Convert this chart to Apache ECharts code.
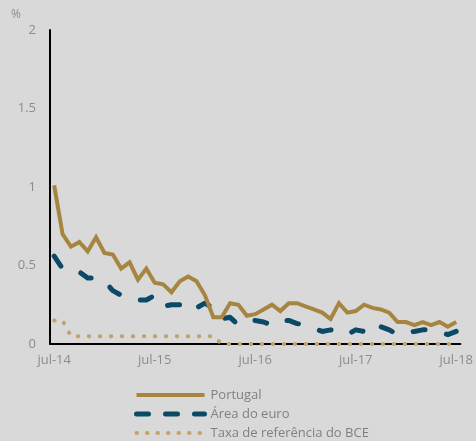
<!DOCTYPE html>
<html>
<head>
<meta charset="utf-8">
<script src="https://cdn.jsdelivr.net/npm/echarts@6/dist/echarts.min.js"></script>
<style>
  html, body { margin: 0; padding: 0; background: #d9d9d9; }
  #chart { width: 476px; height: 441px; }
</style>
</head>
<body>
<div id="chart"></div>
<script>
// meses (jul-14 a jul-18)
const months = [
  'jul-14', 'ago-14', 'set-14', 'out-14', 'nov-14', 'dez-14',
  'jan-15', 'fev-15', 'mar-15', 'abr-15', 'mai-15', 'jun-15',
  'jul-15', 'ago-15', 'set-15', 'out-15', 'nov-15', 'dez-15',
  'jan-16', 'fev-16', 'mar-16', 'abr-16', 'mai-16', 'jun-16',
  'jul-16', 'ago-16', 'set-16', 'out-16', 'nov-16', 'dez-16',
  'jan-17', 'fev-17', 'mar-17', 'abr-17', 'mai-17', 'jun-17',
  'jul-17', 'ago-17', 'set-17', 'out-17', 'nov-17', 'dez-17',
  'jan-18', 'fev-18', 'mar-18', 'abr-18', 'mai-18', 'jun-18',
  'jul-18',
]

// taxas (%)
const portugal = [
  1.01, 0.70, 0.62, 0.65, 0.59, 0.68, 0.58, 0.57, 0.48, 0.52, 0.41, 0.48,
  0.39, 0.38, 0.33, 0.40, 0.43, 0.40, 0.31, 0.17, 0.17, 0.26, 0.25, 0.18,
  0.19, 0.22, 0.25, 0.21, 0.26, 0.26, 0.24, 0.22, 0.20, 0.16, 0.26, 0.20,
  0.21, 0.25, 0.23, 0.22, 0.20, 0.14, 0.14, 0.12, 0.14, 0.12, 0.14, 0.11,
  0.14,
]
const areaEuro = [
  0.56, 0.48, 0.47, 0.46, 0.42, 0.42, 0.40, 0.34, 0.31, 0.29, 0.28, 0.28,
  0.31, 0.24, 0.25, 0.25, 0.21, 0.23, 0.26, 0.23, 0.16, 0.17, 0.12, 0.14,
  0.15, 0.14, 0.12, 0.15, 0.15, 0.13, 0.12, 0.10, 0.08, 0.09, 0.08, 0.06,
  0.09, 0.08, 0.06, 0.11, 0.09, 0.06, 0.07, 0.08, 0.09, 0.09, 0.08, 0.06,
  0.08,
]
const taxaBCE = [
  0.15, 0.15, 0.05, 0.05, 0.05, 0.05, 0.05, 0.05, 0.05, 0.05, 0.05, 0.05,
  0.05, 0.05, 0.05, 0.05, 0.05, 0.05, 0.05, 0.05, 0.00, 0.00, 0.00, 0.00,
  0.00, 0.00, 0.00, 0.00, 0.00, 0.00, 0.00, 0.00, 0.00, 0.00, 0.00, 0.00,
  0.00, 0.00, 0.00, 0.00, 0.00, 0.00, 0.00, 0.00, 0.00, 0.00, 0.00, 0.00,
  0.00,
]

const yTicks = [0, 0.5, 1, 1.5, 2]

const gold = '#a5853f'
const navy = '#0b4a67'
const sand = '#c2a36b'
const font = '"Open Sans", sans-serif'

const chart = echarts.init(document.getElementById('chart'))

chart.setOption({
  backgroundColor: '#d9d9d9',
  animation: false,
  textStyle: { fontFamily: font },
  title: {
    text: '%',
    left: 6,
    top: 4,
    textStyle: { fontSize: 12, fontWeight: 'normal', color: '#8c8c8c', fontFamily: font },
  },
  grid: { left: 50, right: 15, top: 30, height: 314 },
  xAxis: {
    type: 'category',
    data: months,
    boundaryGap: true,
    axisLine: { lineStyle: { color: '#000', width: 2 } },
    axisTick: { interval: 11, length: 4, lineStyle: { color: '#000', width: 1.5 } },
    axisLabel: { interval: 11, color: '#8c8c8c', fontSize: 13, margin: 10, fontFamily: font },
    splitLine: { show: false },
  },
  yAxis: {
    type: 'value',
    min: yTicks[0],
    max: yTicks[yTicks.length - 1],
    interval: 0.5,
    axisLine: { show: true, lineStyle: { color: '#000', width: 2 } },
    axisTick: { show: false },
    axisLabel: { color: '#8c8c8c', fontSize: 13, margin: 14, fontFamily: font },
    splitLine: { show: false },
  },
  legend: {
    orient: 'vertical',
    left: 134,
    top: 388,
    padding: 0,
    itemWidth: 68,
    itemHeight: 6,
    itemGap: 5,
    itemStyle: { opacity: 0 },
    textStyle: { color: '#808080', fontSize: 13, lineHeight: 14, fontFamily: font, padding: [0, 0, 0, 1] },
    data: [
      { name: 'Portugal', lineStyle: { width: 4, color: gold } },
      { name: 'Área do euro', lineStyle: { width: 5, color: navy, type: [12, 17], cap: 'round' } },
      { name: 'Taxa de referência do BCE', lineStyle: { width: 4, color: sand, type: [0.5, 10], cap: 'round' } },
    ],
  },
  series: [
    {
      name: 'Taxa de referência do BCE',
      type: 'line',
      data: taxaBCE,
      symbol: 'none',
      lineStyle: { color: sand, width: 4, type: [0.5, 10.5], cap: 'round' },
      itemStyle: { color: sand },
      z: 1,
    },
    {
      name: 'Área do euro',
      type: 'line',
      data: areaEuro,
      symbol: 'none',
      lineStyle: { color: navy, width: 5, type: [12, 22], cap: 'round', join: 'round' },
      itemStyle: { color: navy },
      z: 2,
    },
    {
      name: 'Portugal',
      type: 'line',
      data: portugal,
      symbol: 'none',
      lineStyle: { color: gold, width: 4, join: 'miter' },
      itemStyle: { color: gold },
      z: 3,
    },
  ],
})
</script>
</body>
</html>
